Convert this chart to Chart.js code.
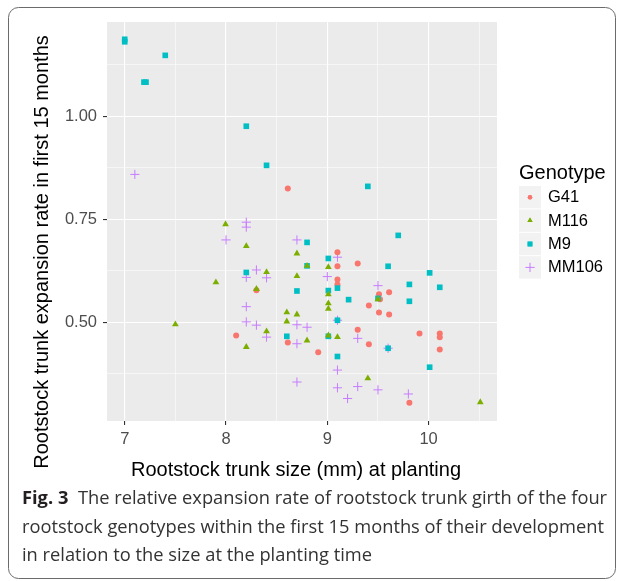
<!DOCTYPE html>
<html>
<head>
<meta charset="utf-8">
<script src="https://cdn.jsdelivr.net/npm/chart.js@4.4.1/dist/chart.umd.min.js"></script>
<style>
  html, body { margin: 0; padding: 0; background: #ffffff; }
  #wrap { position: relative; width: 624px; height: 581px; }
  canvas { display: block; }
</style>
</head>
<body>
<div id="wrap"><canvas id="c" width="624" height="581"></canvas></div>
<script>
// Trunk size at planting (mm) and relative expansion rate, per genotype
const g41X   = [8.61, 9.10, 9.30, 9.10, 9.10, 9.10, 9.61, 9.51, 9.52, 9.41, 9.51, 9.61, 8.61, 9.30, 9.41, 8.91, 9.91, 10.11, 10.11, 10.11, 9.81, 8.10, 8.30];
const g41Y   = [0.825, 0.670, 0.643, 0.636, 0.604, 0.592, 0.573, 0.568, 0.556, 0.541, 0.524, 0.519, 0.451, 0.482, 0.447, 0.427, 0.473, 0.473, 0.464, 0.434, 0.305, 0.468, 0.578];

const m116X  = [7.995, 8.20, 8.70, 8.40, 8.70, 7.90, 8.30, 8.80, 9.01, 9.01, 9.01, 9.01, 8.60, 8.70, 8.60, 9.01, 9.10, 8.80, 9.40, 10.51, 7.50, 8.40, 8.20, 9.50];
const m116Y  = [0.738, 0.685, 0.667, 0.622, 0.612, 0.597, 0.581, 0.637, 0.634, 0.568, 0.546, 0.533, 0.524, 0.519, 0.502, 0.468, 0.464, 0.456, 0.364, 0.306, 0.495, 0.478, 0.440, 0.556];

const m9X    = [7.00, 7.00, 7.40, 7.19, 7.21, 8.20, 8.40, 9.40, 9.70, 8.80, 9.01, 8.80, 9.60, 8.20, 10.01, 9.81, 10.11, 8.70, 9.01, 9.10, 9.21, 9.50, 9.81, 9.10, 8.60, 9.01, 9.60, 9.10, 10.01];
const m9Y    = [1.187, 1.181, 1.148, 1.083, 1.083, 0.976, 0.881, 0.830, 0.711, 0.694, 0.655, 0.637, 0.636, 0.621, 0.620, 0.592, 0.585, 0.576, 0.577, 0.583, 0.555, 0.558, 0.551, 0.505, 0.466, 0.466, 0.437, 0.417, 0.391];

const mm106X = [7.10, 8.20, 8.20, 8.00, 8.70, 8.30, 8.20, 8.40, 9.10, 9.00, 9.50, 8.20, 8.20, 8.30, 8.40, 8.70, 8.80, 8.70, 9.30, 9.60, 9.10, 9.10, 8.70, 9.10, 9.30, 9.50, 9.20, 9.80];
const mm106Y = [0.859, 0.743, 0.731, 0.700, 0.700, 0.627, 0.609, 0.608, 0.658, 0.611, 0.589, 0.538, 0.501, 0.493, 0.464, 0.494, 0.488, 0.448, 0.461, 0.437, 0.505, 0.384, 0.355, 0.341, 0.344, 0.336, 0.315, 0.326];

const genotypes = ['G41', 'M116', 'M9', 'MM106'];

// Axis ticks: labelled breaks and the minor grid between them
const xTickLabels = ['7', '8', '9', '10'];
const yTickLabels = ['0.50', '0.75', '1.00'];
const xGridValues = [7, 7.5, 8, 8.5, 9, 9.5, 10, 10.5];
const yGridValues = [0.375, 0.5, 0.625, 0.75, 0.875, 1.0, 1.125];

const xTitle = 'Rootstock trunk size (mm) at planting';
const yTitle = 'Rootstock trunk expansion rate in first 15 months';
const legendTitle = 'Genotype';
const captionBold = 'Fig. 3';
const captionLines = [
  'The relative expansion rate of rootstock trunk girth of the four',
  'rootstock genotypes within the first 15 months of their development',
  'in relation to the size at the planting time'
];

const colors = ['#F8766D', '#7CAE00', '#00BFC4', '#C77CFF'];
const styles = ['circle', 'triangle', 'rect', 'cross'];
const radii = [3, 3.9, 4, 4.6];
const legendRadii = [2.2, 3.0, 3.4, 4.6];
const drawOrder = [3, 1, 2, 4];

function pts(xs, ys) { return xs.map((x, i) => ({ x: x, y: ys[i] })); }
const series = [pts(g41X, g41Y), pts(m116X, m116Y), pts(m9X, m9Y), pts(mm106X, mm106Y)];

const datasets = genotypes.map((g, i) => ({
  label: g,
  data: series[i],
  order: drawOrder[i],
  pointStyle: styles[i],
  pointRadius: radii[i],
  pointHoverRadius: radii[i],
  backgroundColor: colors[i],
  borderColor: colors[i],
  pointBorderWidth: styles[i] === 'cross' ? 1 : 0,
  showLine: false
}));

const FONT = '"Liberation Sans", Arial, Helvetica, sans-serif';

function isMajorX(v) { return Math.abs(v - Math.round(v)) < 1e-9; }
function isMajorY(v) { return Math.abs(v * 4 - Math.round(v * 4)) < 1e-9; }

const decor = {
  id: 'decor',
  beforeDraw(chart) {
    const { ctx, chartArea: a } = chart;
    ctx.save();
    ctx.fillStyle = '#EBEBEB';
    ctx.fillRect(a.left, a.top, a.right - a.left, a.bottom - a.top);
    ctx.restore();
  },
  afterDraw(chart) {
    const { ctx, chartArea: a } = chart;
    ctx.save();

    // axis titles
    ctx.fillStyle = '#000000';
    ctx.font = '20px ' + FONT;
    ctx.textAlign = 'center';
    ctx.textBaseline = 'middle';
    ctx.fillText(xTitle, 296, 470);
    ctx.save();
    ctx.translate(42, 252);
    ctx.rotate(-Math.PI / 2);
    ctx.fillText(yTitle, 0, 0);
    ctx.restore();

    // legend
    ctx.textAlign = 'left';
    ctx.font = '20px ' + FONT;
    ctx.fillText(legendTitle, 519, 173);
    ctx.font = '16.5px ' + FONT;
    genotypes.forEach((g, i) => {
      const top = 186 + i * 23.4;
      ctx.fillStyle = '#F2F2F2';
      ctx.fillRect(519, top, 22, 22.4);
      const cx = 530, cy = top + 11.2;
      ctx.fillStyle = colors[i];
      ctx.strokeStyle = colors[i];
      ctx.lineWidth = 1;
      Chart.helpers.drawPoint(ctx, {
        pointStyle: styles[i], radius: legendRadii[i], rotation: 0,
        borderWidth: styles[i] === 'cross' ? 1 : 0
      }, cx, cy);
      if (styles[i] !== 'cross') ctx.fill();
      ctx.fillStyle = '#000000';
      ctx.fillText(g, 548, cy + 0.5);
    });

    // caption
    ctx.font = '18px "Open Sans", "Noto Sans", sans-serif';
    const w2 = ctx.measureText(captionLines[1]).width;
    const sx = 582 / w2;
    const baselines = [504, 533, 561];
    ctx.textBaseline = 'alphabetic';
    ctx.save();
    ctx.translate(22, 0);
    ctx.scale(sx, 1);
    ctx.font = 'bold 18px "Open Sans", "Noto Sans", sans-serif';
    ctx.fillStyle = '#231f20';
    ctx.fillText(captionBold, 0, baselines[0]);
    const bw = ctx.measureText(captionBold + '  ').width;
    ctx.font = '18px "Open Sans", "Noto Sans", sans-serif';
    ctx.fillStyle = '#333333';
    ctx.fillText(captionLines[0], bw, baselines[0]);
    ctx.fillText(captionLines[1], 0, baselines[1]);
    ctx.fillText(captionLines[2], 0, baselines[2]);
    ctx.restore();

    // frame
    ctx.strokeStyle = '#6b6b6b';
    ctx.lineWidth = 1;
    ctx.beginPath();
    if (ctx.roundRect) ctx.roundRect(8.5, 7.5, 607, 571, 10);
    else ctx.rect(8.5, 7.5, 607, 571);
    ctx.stroke();

    ctx.restore();
  }
};

new Chart(document.getElementById('c'), {
  type: 'scatter',
  data: { datasets: datasets },
  plugins: [decor],
  options: {
    responsive: false,
    animation: false,
    devicePixelRatio: 1,
    layout: { padding: { left: 0, right: 127, top: 22, bottom: 0 } },
    plugins: { legend: { display: false }, tooltip: { enabled: false }, title: { display: false } },
    events: [],
    scales: {
      x: {
        type: 'linear',
        min: 6.825,
        max: 10.675,
        border: { display: false },
        afterBuildTicks: (s) => { s.ticks = xGridValues.map(v => ({ value: v })); },
        afterFit: (s) => { s.height = 160; },
        grid: {
          color: '#FFFFFF',
          lineWidth: (c) => (c.tick && isMajorX(c.tick.value)) ? 1.1 : 0.55,
          tickColor: (c) => (c.tick && isMajorX(c.tick.value)) ? '#333333' : 'rgba(0,0,0,0)',
          tickLength: 4,
          drawTicks: true
        },
        ticks: {
          autoSkip: false,
          maxRotation: 0,
          padding: 5,
          color: '#4D4D4D',
          font: { family: FONT, size: 16.5 },
          callback: (v) => isMajorX(v) ? xTickLabels[Math.round(v) - 7] : ''
        }
      },
      y: {
        type: 'linear',
        min: 0.2604,
        max: 1.229,
        border: { display: false },
        afterBuildTicks: (s) => { s.ticks = yGridValues.map(v => ({ value: v })); },
        afterFit: (s) => { s.width = 107; },
        grid: {
          color: '#FFFFFF',
          lineWidth: (c) => (c.tick && isMajorY(c.tick.value)) ? 1.1 : 0.55,
          tickColor: (c) => (c.tick && isMajorY(c.tick.value)) ? '#333333' : 'rgba(0,0,0,0)',
          tickLength: 4,
          drawTicks: true
        },
        ticks: {
          autoSkip: false,
          padding: 6,
          color: '#4D4D4D',
          font: { family: FONT, size: 16.5 },
          callback: (v) => isMajorY(v) ? yTickLabels[Math.round(v * 4) - 2] : ''
        }
      }
    }
  }
});
</script>
</body>
</html>
